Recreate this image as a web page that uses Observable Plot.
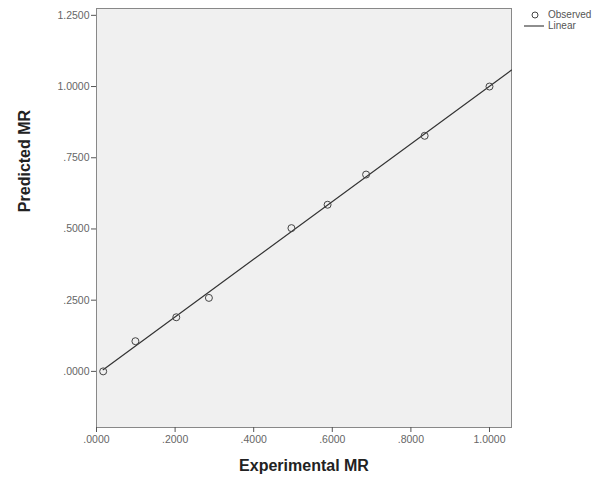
<!DOCTYPE html>
<html>
<head>
<meta charset="utf-8">
<script src="https://cdn.jsdelivr.net/npm/d3@7"></script>
<script src="https://cdn.jsdelivr.net/npm/@observablehq/plot@0.6"></script>
<style>
  body { margin: 0; background: #fff; font-family: Arial, "Liberation Sans", sans-serif; }
  #wrap { position: relative; width: 610px; height: 480px; }
  #legend { position: absolute; left: 524px; top: 9px; font-size: 10px; color: #555; line-height: 11px; }
  #legend div { display: flex; align-items: center; }
  #legend svg { margin-right: 4px; }
</style>
</head>
<body>
<div id="wrap">
  <div id="chart"></div>
  <div id="legend">
    <div><svg width="20" height="10"><circle cx="11" cy="5" r="3" fill="none" stroke="#444"/></svg>Observed</div>
    <div><svg width="20" height="10"><line x1="0" y1="5" x2="20" y2="5" stroke="#444" stroke-width="1.2"/></svg>Linear</div>
  </div>
</div>
<script>
// Data
const experimentalMR = [0.017, 0.099, 0.203, 0.286, 0.496, 0.588, 0.686, 0.835, 1.000];
const predictedMR    = [0.000, 0.106, 0.190, 0.258, 0.503, 0.585, 0.691, 0.827, 1.000];
const xTicks = [0, 0.2, 0.4, 0.6, 0.8, 1.0];
const yTicks = [0, 0.25, 0.5, 0.75, 1.0, 1.25];
const xDomain = [0, 1.056];
const yDomain = [-0.197, 1.274];

const points = experimentalMR.map((x, i) => ({x, y: predictedMR[i]}));

// least-squares linear fit
const mx = d3.mean(experimentalMR), my = d3.mean(predictedMR);
const slope = d3.sum(points, d => (d.x - mx) * (d.y - my)) / d3.sum(points, d => (d.x - mx) ** 2);
const intercept = my - slope * mx;
const fitLine = [d3.min(experimentalMR), xDomain[1]].map(x => ({x, y: intercept + slope * x}));

const fmt = v => d3.format(".4f")(v).replace(/^0\./, ".");

const chart = Plot.plot({
  width: 610,
  height: 480,
  marginLeft: 96,
  marginRight: 99,
  marginTop: 8,
  marginBottom: 53,
  style: { fontFamily: "Arial, 'Liberation Sans', sans-serif", fontSize: "10.5px", color: "#666", background: "white" },
  x: { domain: xDomain, ticks: xTicks, tickFormat: fmt, tickSize: 5, label: null },
  y: { domain: yDomain, ticks: yTicks, tickFormat: fmt, tickSize: 5, label: null },
  marks: [
    Plot.frame({ fill: "#f0f0f0", stroke: "#888" }),
    Plot.axisX({ ticks: xTicks, tickFormat: fmt, tickSize: 5, stroke: "#555", tickPadding: 3, label: null }),
    Plot.axisY({ ticks: yTicks, tickFormat: fmt, tickSize: 5, stroke: "#555", tickPadding: 2, label: null }),
    Plot.line(fitLine, { x: "x", y: "y", stroke: "#333", strokeWidth: 1.2 }),
    Plot.dot(points, { x: "x", y: "y", r: 3.5, stroke: "#444", fill: "none", strokeWidth: 1 }),
    Plot.text(["Experimental MR"], { frameAnchor: "bottom", dy: 43, fontSize: 16, fontWeight: "bold", fill: "#222" }),
    Plot.text(["Predicted MR"], { frameAnchor: "left", textAnchor: "middle", dx: -72, dy: -57, rotate: -90, fontSize: 16, fontWeight: "bold", fill: "#222" })
  ]
});
document.getElementById("chart").appendChild(chart);
</script>
</body>
</html>
